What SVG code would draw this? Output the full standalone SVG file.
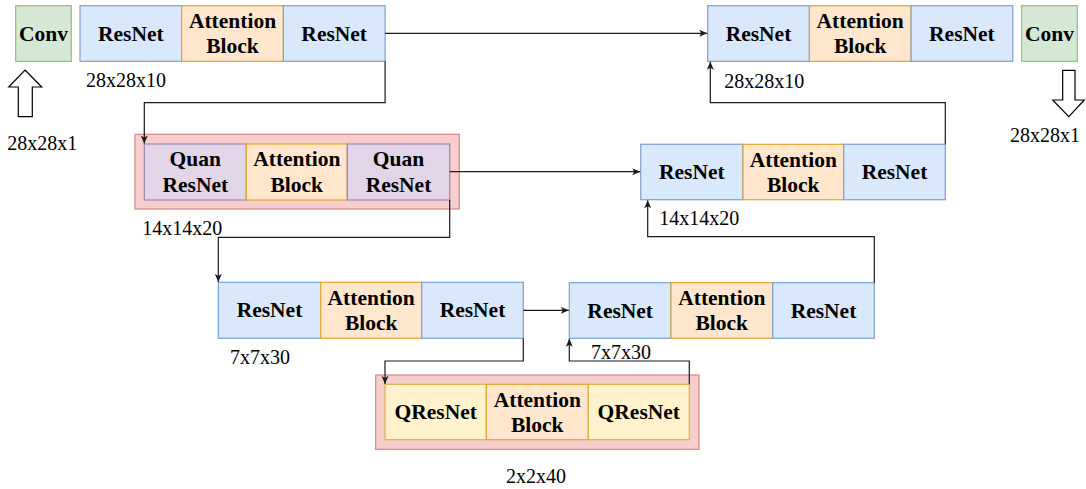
<svg xmlns="http://www.w3.org/2000/svg" width="1086" height="489" viewBox="0 0 1086 489">
  <style>
    .blue { fill: #dae8fc; stroke: #7e9fd0; stroke-width: 1.2; }
    .orange { fill: #ffe6cc; stroke: #dfa52a; stroke-width: 1.2; }
    .green { fill: #d5e8d4; stroke: #8fbf7a; stroke-width: 1.2; }
    .purple { fill: #e1d5e7; stroke: #9f80b0; stroke-width: 1.2; }
    .yellow { fill: #fff2cc; stroke: #dcb04a; stroke-width: 1.2; }
    .red { fill: #f8cecc; stroke: #d98585; stroke-width: 1.2; }
    .lbl { font-family: "Liberation Serif", "Times New Roman", serif; font-weight: bold; font-size: 21.5px; fill: #000; text-anchor: middle; dominant-baseline: central; }
    .dim { font-family: "Liberation Serif", "Times New Roman", serif; font-size: 20px; fill: #000; dominant-baseline: central; }
    .edge { fill: none; stroke: #1a1a1a; stroke-width: 1.2; marker-end: url(#arrow); }
    .block { fill: #fff; stroke: #000; stroke-width: 1.2; }
  </style>
  <defs>
    <marker id="arrow" markerUnits="userSpaceOnUse" markerWidth="10" markerHeight="8" refX="8" refY="4" orient="auto">
      <path d="M0,0.5 L8,4 L0,7.5 L2,4 Z" fill="#1a1a1a"/>
    </marker>
  </defs>

  <!-- input / output conv layers -->
  <g id="conv-in">
    <rect class="green" x="15.7" y="5.7" width="55.6" height="55.6"/>
    <text class="lbl" x="43.5" y="33.5">Conv</text>
    <path class="block" d="M25,70 L41.7,87 L32.3,87 L32.3,116.7 L18.3,116.7 L18.3,87 L8.7,87 Z"/>
    <text class="dim" x="7.3" y="143.3">28x28x1</text>
  </g>
  <g id="conv-out">
    <rect class="green" x="1021.7" y="5.7" width="55.6" height="55.6"/>
    <text class="lbl" x="1049.5" y="33.5">Conv</text>
    <path class="block" d="M1062.7,70.3 L1075,70.3 L1075,100 L1084.3,100 L1068.8,116.7 L1052.7,100 L1062.7,100 Z"/>
    <text class="dim" x="1010" y="135">28x28x1</text>
  </g>

  <!-- encoder level 1 -->
  <g id="enc1">
    <rect class="blue" x="80" y="5.7" width="101.7" height="55.6"/>
    <rect class="orange" x="181.7" y="5.7" width="101.7" height="55.6"/>
    <rect class="blue" x="283.4" y="5.7" width="101.7" height="55.6"/>
    <text class="lbl" x="130.8" y="33.5">ResNet</text>
    <text class="lbl" x="232.5" y="21">Attention</text>
    <text class="lbl" x="232.5" y="46">Block</text>
    <text class="lbl" x="334.2" y="33.5">ResNet</text>
    <text class="dim" x="86" y="80">28x28x10</text>
  </g>

  <!-- decoder level 1 -->
  <g id="dec1">
    <rect class="blue" x="707.7" y="5.7" width="101.7" height="55.6"/>
    <rect class="orange" x="809.4" y="5.7" width="101.7" height="55.6"/>
    <rect class="blue" x="911.1" y="5.7" width="101.7" height="55.6"/>
    <text class="lbl" x="758.5" y="33.5">ResNet</text>
    <text class="lbl" x="860.2" y="21">Attention</text>
    <text class="lbl" x="860.2" y="46">Block</text>
    <text class="lbl" x="961.9" y="33.5">ResNet</text>
    <text class="dim" x="724.3" y="81">28x28x10</text>
  </g>

  <!-- encoder level 2 (quantum) -->
  <g id="enc2">
    <rect class="red" x="135" y="134.3" width="324.3" height="74.7"/>
    <rect class="purple" x="144.3" y="144" width="102" height="56"/>
    <rect class="orange" x="246.3" y="144" width="101" height="56"/>
    <rect class="purple" x="347.3" y="144" width="102.4" height="56"/>
    <text class="lbl" x="195.3" y="159">Quan</text>
    <text class="lbl" x="195.3" y="185">ResNet</text>
    <text class="lbl" x="296.8" y="159">Attention</text>
    <text class="lbl" x="296.8" y="185">Block</text>
    <text class="lbl" x="398.5" y="159">Quan</text>
    <text class="lbl" x="398.5" y="185">ResNet</text>
    <text class="dim" x="142.3" y="228.3">14x14x20</text>
  </g>

  <!-- decoder level 2 -->
  <g id="dec2">
    <rect class="blue" x="640.7" y="144.3" width="102.3" height="55.4"/>
    <rect class="orange" x="743" y="144.3" width="100.7" height="55.4"/>
    <rect class="blue" x="843.7" y="144.3" width="101.6" height="55.4"/>
    <text class="lbl" x="691.8" y="172">ResNet</text>
    <text class="lbl" x="793.3" y="159.5">Attention</text>
    <text class="lbl" x="793.3" y="184.5">Block</text>
    <text class="lbl" x="894.5" y="172">ResNet</text>
    <text class="dim" x="659.3" y="218.3">14x14x20</text>
  </g>

  <!-- encoder level 3 -->
  <g id="enc3">
    <rect class="blue" x="218.3" y="282.3" width="102.4" height="56"/>
    <rect class="orange" x="320.7" y="282.3" width="101" height="56"/>
    <rect class="blue" x="421.7" y="282.3" width="101.6" height="56"/>
    <text class="lbl" x="269.5" y="310.3">ResNet</text>
    <text class="lbl" x="371.2" y="297.8">Attention</text>
    <text class="lbl" x="371.2" y="322.8">Block</text>
    <text class="lbl" x="472.5" y="310.3">ResNet</text>
    <text class="dim" x="230" y="356.7">7x7x30</text>
  </g>

  <!-- decoder level 3 -->
  <g id="dec3">
    <rect class="blue" x="569.3" y="282.7" width="101.7" height="55.6"/>
    <rect class="orange" x="671" y="282.7" width="101.7" height="55.6"/>
    <rect class="blue" x="772.7" y="282.7" width="101.6" height="55.6"/>
    <text class="lbl" x="620.2" y="310.5">ResNet</text>
    <text class="lbl" x="721.8" y="298">Attention</text>
    <text class="lbl" x="721.8" y="323">Block</text>
    <text class="lbl" x="823.5" y="310.5">ResNet</text>
    <text class="dim" x="591" y="351.7">7x7x30</text>
  </g>

  <!-- bottleneck (quantum) -->
  <g id="bottleneck">
    <rect class="red" x="375.7" y="375" width="323.3" height="74.3"/>
    <rect class="yellow" x="385" y="384.3" width="101.3" height="55.4"/>
    <rect class="orange" x="486.3" y="384.3" width="102" height="55.4"/>
    <rect class="yellow" x="588.3" y="384.3" width="101" height="55.4"/>
    <text class="lbl" x="435.7" y="412">QResNet</text>
    <text class="lbl" x="537.3" y="399.5">Attention</text>
    <text class="lbl" x="537.3" y="424.5">Block</text>
    <text class="lbl" x="638.8" y="412">QResNet</text>
    <text class="dim" x="536" y="476" text-anchor="middle">2x2x40</text>
  </g>

  <!-- connectors -->
  <g id="connectors">
    <path class="edge" d="M385.1,33.3 H707.2"/>
    <path class="edge" d="M385.1,61.3 V102.7 H144.3 V143.6"/>
    <path class="edge" d="M449.7,171.7 H640.2"/>
    <path class="edge" d="M449.7,200 V237.3 H218.3 V281.9"/>
    <path class="edge" d="M523.3,310.3 H568.8"/>
    <path class="edge" d="M523.3,338.3 V361 H385 V383.9"/>
    <path class="edge" d="M689.3,384.3 V361 H569.3 V338.8"/>
    <path class="edge" d="M874.3,282.7 V236.7 H647.7 V200.2"/>
    <path class="edge" d="M945.3,144.3 V102.7 H710.3 V61.8"/>
  </g>
</svg>
